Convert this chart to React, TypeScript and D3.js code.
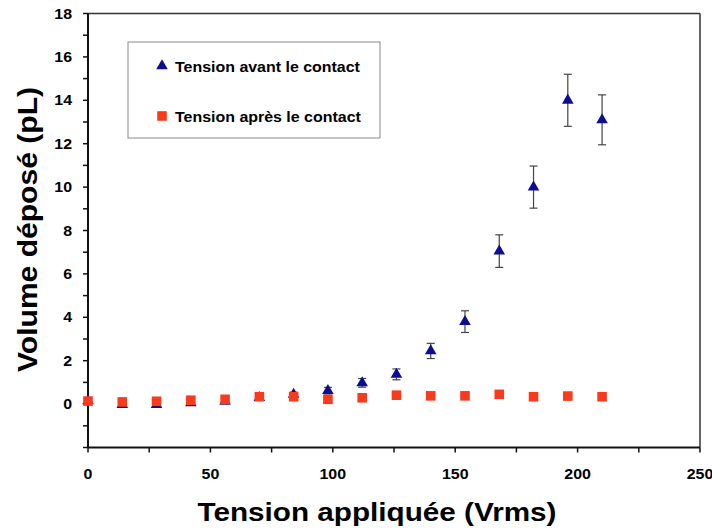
import React from "react";
import * as d3 from "d3";

const xVals = [0, 14, 28, 42, 56, 70, 84, 98, 112, 126, 140, 154, 168, 182, 196, 210];
const avantVals = [0.15, -0.02, -0.03, 0.06, 0.12, 0.3, 0.45, 0.62, 0.98, 1.37, 2.45, 3.8, 7.05, 10.0, 14.0, 13.1];
const avantErr = [0.05, 0.05, 0.05, 0.05, 0.05, 0.1, 0.1, 0.15, 0.2, 0.25, 0.35, 0.5, 0.75, 0.97, 1.2, 1.15];
const apresVals = [0.14, 0.1, 0.13, 0.18, 0.22, 0.34, 0.34, 0.22, 0.29, 0.41, 0.38, 0.38, 0.45, 0.34, 0.37, 0.34];
const xTicks = [0, 50, 100, 150, 200, 250];
const yTicks = [0, 2, 4, 6, 8, 10, 12, 14, 16, 18];
const seriesNames = ["Tension avant le contact", "Tension après le contact"];
const xTitle = "Tension appliquée (Vrms)";
const yTitle = "Volume déposé (pL)";

const W = 712;
const H = 528;
const FONT = "'Liberation Sans', Arial, sans-serif";
const BLUE = "#0c0c94";
const RED = "#fa3a1c";
const SX = 1.14;

export default function App() {
  const x = d3.scaleLinear().domain([0, 250]).range([88, 700]);
  const y = d3.scaleLinear().domain([-2, 18]).range([447.5, 13.5]);
  const tri = d3.symbol(d3.symbolTriangle, 58)()!;
  const sq = d3.symbol(d3.symbolSquare, 92)()!;
  const minorX = d3.range(0, 251, 25);
  const minorY = d3.range(-2, 19, 1);

  const stxt = (px: number, py: number, s: string, size: number, anchor: string, key?: any) => (
    <text
      key={key}
      transform={`translate(${px},${py}) scale(${SX},1)`}
      textAnchor={anchor}
      fontFamily={FONT}
      fontWeight="bold"
      fontSize={size}
      fill="#000"
    >
      {s}
    </text>
  );

  return (
    <svg width={W} height={H} style={{ position: "absolute", left: 0, top: 0, background: "#fff" }}>
      <rect x={0} y={0} width={W} height={H} fill="#fff" />
      {/* frame top/right */}
      <line x1={x(0)} x2={x(250)} y1={y(18)} y2={y(18)} stroke="#333" strokeWidth={1.5} />
      <line x1={x(250)} x2={x(250)} y1={y(18)} y2={y(-2)} stroke="#333" strokeWidth={1.5} />
      {/* axes */}
      <line x1={x(0)} x2={x(250)} y1={y(-2)} y2={y(-2)} stroke="#111" strokeWidth={2} />
      <line x1={x(0)} x2={x(0)} y1={y(18)} y2={y(-2)} stroke="#111" strokeWidth={2} />
      {minorX.map((v) => (
        <line key={"mx" + v} x1={x(v)} x2={x(v)} y1={y(-2)} y2={y(-2) + 5} stroke="#111" strokeWidth={1.5} />
      ))}
      {minorY.map((v) => (
        <line key={"my" + v} x1={x(0) - 5} x2={x(0)} y1={y(v)} y2={y(v)} stroke="#111" strokeWidth={1.5} />
      ))}
      {xTicks.map((v) => stxt(x(v), 479, String(v), 14, "middle", "xt" + v))}
      {yTicks.map((v) => stxt(72, y(v) + 5, String(v), 14, "end", "yt" + v))}

      {/* error bars */}
      {xVals.map((xv, i) => {
        const e = avantErr[i];
        const top = y(avantVals[i] + e);
        const bot = y(avantVals[i] - e);
        return (
          <g key={"eb" + i} stroke="#444" strokeWidth={1.2}>
            <line x1={x(xv)} x2={x(xv)} y1={top} y2={bot} />
            <line x1={x(xv) - 4} x2={x(xv) + 4} y1={top} y2={top} />
            <line x1={x(xv) - 4} x2={x(xv) + 4} y1={bot} y2={bot} />
          </g>
        );
      })}
      {xVals.map((xv, i) => (
        <path key={"b" + i} d={tri} transform={`translate(${x(xv)},${y(avantVals[i])})`} fill={BLUE} />
      ))}
      {xVals.map((xv, i) => (
        <path key={"r" + i} d={sq} transform={`translate(${x(xv)},${y(apresVals[i])})`} fill={RED} />
      ))}

      {/* legend */}
      <rect x={128} y={42} width={252} height={96} fill="#fff" stroke="#888" strokeWidth={1} />
      <path d={tri} transform="translate(162,66)" fill={BLUE} />
      {stxt(175, 71.5, seriesNames[0], 14, "start", "l0")}
      <path d={sq} transform="translate(162,116)" fill={RED} />
      {stxt(175, 121.5, seriesNames[1], 14, "start", "l1")}

      {/* titles */}
      <text
        x={377}
        y={521}
        textAnchor="middle"
        fontFamily={FONT}
        fontWeight="bold"
        fontSize={26}
        textLength={359}
        lengthAdjust="spacingAndGlyphs"
      >
        {xTitle}
      </text>
      <text
        transform={`translate(37,229.5) rotate(-90)`}
        textAnchor="middle"
        fontFamily={FONT}
        fontWeight="bold"
        fontSize={27}
        textLength={285}
        lengthAdjust="spacingAndGlyphs"
      >
        {yTitle}
      </text>
    </svg>
  );
}
